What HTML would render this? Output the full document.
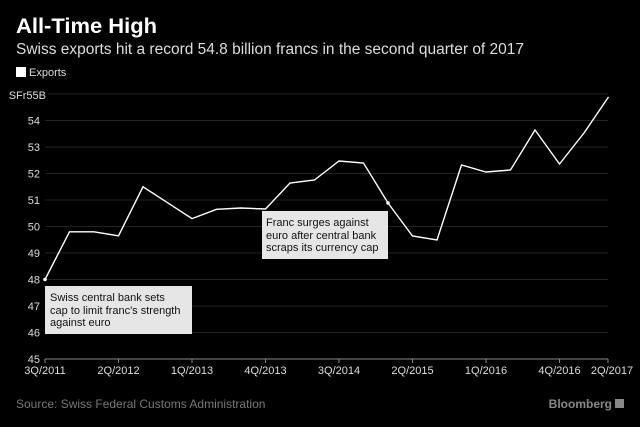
<!DOCTYPE html>
<html><head><meta charset="utf-8"><style>
body{margin:0;background:#000;width:640px;height:427px;overflow:hidden}
svg{display:block}
text{font-family:"Liberation Sans",sans-serif}
</style></head><body>
<svg width="640" height="427" xmlns="http://www.w3.org/2000/svg">
<rect width="640" height="427" fill="#000"/>
<text x="16" y="33" fill="#fff" font-size="21" font-weight="bold" textLength="141" lengthAdjust="spacingAndGlyphs">All-Time High</text>
<text x="16" y="54" fill="#ddd" font-size="15.5" textLength="508" lengthAdjust="spacingAndGlyphs">Swiss exports hit a record 54.8 billion francs in the second quarter of 2017</text>
<rect x="16" y="67" width="10" height="10" fill="#fff"/>
<text x="29" y="76" fill="#ddd" font-size="11">Exports</text>
<g stroke="#222" stroke-width="1">
<line x1="48" x2="608" y1="94" y2="94"/><line x1="45" x2="608" y1="120.5" y2="120.5"/>
<line x1="45" x2="608" y1="147" y2="147"/><line x1="45" x2="608" y1="173.5" y2="173.5"/>
<line x1="45" x2="608" y1="200" y2="200"/><line x1="45" x2="608" y1="226.5" y2="226.5"/>
<line x1="45" x2="608" y1="253" y2="253"/><line x1="45" x2="608" y1="279.5" y2="279.5"/>
<line x1="45" x2="608" y1="306" y2="306"/><line x1="45" x2="608" y1="332.5" y2="332.5"/>
</g>
<line x1="45" x2="608" y1="359" y2="359" stroke="#888"/>
<g stroke="#888"><line x1="45" x2="45" y1="359" y2="363"/><line x1="118.5" x2="118.5" y1="359" y2="363"/><line x1="192" x2="192" y1="359" y2="363"/><line x1="265.5" x2="265.5" y1="359" y2="363"/><line x1="339" x2="339" y1="359" y2="363"/><line x1="412.5" x2="412.5" y1="359" y2="363"/><line x1="486" x2="486" y1="359" y2="363"/><line x1="559.5" x2="559.5" y1="359" y2="363"/><line x1="608" x2="608" y1="359" y2="363"/></g>
<g fill="#ddd" font-size="11" text-anchor="end">
<text x="46" y="99">SFr55B</text><text x="40" y="124.5">54</text><text x="40" y="151">53</text><text x="40" y="177.5">52</text><text x="40" y="204">51</text><text x="40" y="230.5">50</text><text x="40" y="257">49</text><text x="40" y="283.5">48</text><text x="40" y="310">47</text><text x="40" y="336.5">46</text><text x="40" y="363">45</text>
</g>
<g fill="#ddd" font-size="11" text-anchor="middle">
<text x="45" y="374">3Q/2011</text><text x="118.5" y="374">2Q/2012</text><text x="192" y="374">1Q/2013</text><text x="265.5" y="374">4Q/2013</text><text x="339" y="374">3Q/2014</text><text x="412.5" y="374">2Q/2015</text><text x="486" y="374">1Q/2016</text><text x="559.5" y="374">4Q/2016</text><text x="612" y="374">2Q/2017</text>
</g>
<polyline fill="none" stroke="#fff" stroke-width="1.4" points="45,279.5 69.5,231.8 94,231.8 118.5,235.8 143,186.8 167.5,202.7 192,218.6 216.5,209.3 241,208 265.5,209 290,183 314.5,180 339,161 363.5,163 388,203 412.5,236 437,240 461.5,165 486,172 510.5,170 535,130 559.5,164 584,133 608.5,97"/>
<circle cx="45" cy="279.5" r="1.8" fill="#fff"/>
<circle cx="388" cy="203" r="1.8" fill="#fff"/>
<rect x="45" y="286" width="147" height="48" fill="#e6e6e6"/>
<g fill="#111" font-size="11"><text x="50" y="301">Swiss central bank sets</text><text x="50" y="314">cap to limit franc's strength</text><text x="50" y="326">against euro</text></g>
<rect x="262" y="211" width="126" height="48" fill="#e6e6e6"/>
<g fill="#111" font-size="11"><text x="266" y="226">Franc surges against</text><text x="266" y="239">euro after central bank</text><text x="266" y="251">scraps its currency cap</text></g>
<text x="16" y="408" fill="#777" font-size="12">Source: Swiss Federal Customs Administration</text>
<text x="612" y="408" fill="#888" font-size="12" font-weight="bold" text-anchor="end">Bloomberg</text>
<rect x="615" y="399" width="9" height="9" fill="#888"/>
</svg>
</body></html>
